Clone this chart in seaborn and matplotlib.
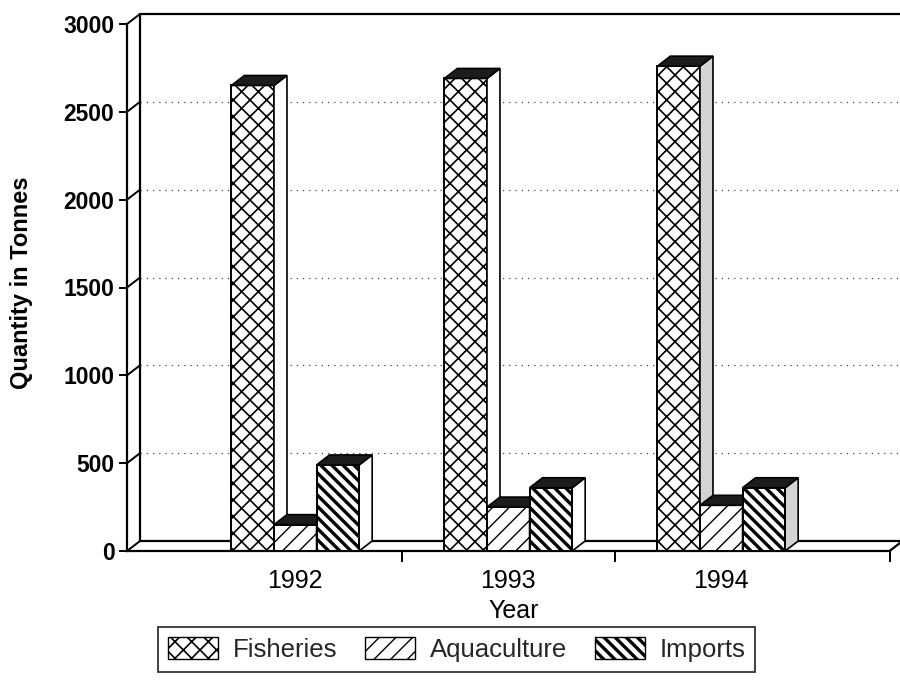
import numpy as np
import pandas as pd
import seaborn as sns
import matplotlib
matplotlib.use("Agg")
import matplotlib.pyplot as plt
import matplotlib.patches as mpatches

# ---- data ----
years = ["1992", "1993", "1994"]
series = ["Fisheries", "Aquaculture", "Imports"]
fisheries = [2650, 2690, 2760]
aquaculture = [150, 250, 260]
imports = [490, 360, 360]
y_ticks = [0, 500, 1000, 1500, 2000, 2500, 3000]
y_label = "Quantity in Tonnes"
x_label = "Year"

sns.set_theme(style="white")
plt.rcParams["font.family"] = ["Liberation Sans", "DejaVu Sans"]
plt.rcParams["hatch.linewidth"] = 1.1
plt.rcParams["hatch.color"] = "black"

df = pd.DataFrame({
    "Year": years * 3,
    "Series": np.repeat(series, len(years)),
    "Quantity": fisheries + aquaculture + imports,
})

W, H = 900, 685
fig = plt.figure(figsize=(W / 100, H / 100), dpi=100)
L, R, B, T = 127, 900, 551, 14
ax = fig.add_axes([L / W, 1 - B / H, (R - L) / W, (B - T) / H])

hatches = {"Fisheries": "xx", "Aquaculture": "//", "Imports": "\\\\\\"}
hatch_lw = {"Fisheries": 1.2, "Aquaculture": 1.0, "Imports": 2.4}


def set_hlw(patch, lw):
    if hasattr(patch, "set_hatch_linewidth"):
        patch.set_hatch_linewidth(lw)
    else:
        patch._hatch_linewidth = lw


bars_by_series = {}
for name in series:
    n_before = len(ax.patches)
    with plt.rc_context({"hatch.linewidth": hatch_lw[name]}):
        sns.barplot(data=df[df["Series"] == name], x="Year", y="Quantity", hue="Series",
                    hue_order=series, order=years, palette=["white"] * 3,
                    edgecolor="black", linewidth=1.4, width=0.6, ax=ax, legend=False,
                    errorbar=None, saturation=1, dodge=True)
    bars_by_series[name] = list(ax.patches[n_before:])

px_per_x = 213.0
x0lim = -0.79
x1lim = x0lim + (R - L) / px_per_x
px_per_y = 527.0 / 3000.0
y1lim = (B - T) / px_per_y
ax.set_xlim(x0lim, x1lim)
ax.set_ylim(0, y1lim)

ux = 1.0 / px_per_x
uy = 1.0 / px_per_y
dx, dy = 13 * ux, 10 * uy

for i, name in enumerate(series):
    bars = sorted(bars_by_series[name], key=lambda p: p.get_x())
    for j, p in enumerate(bars):
        p.set_hatch(hatches[name])
        set_hlw(p, hatch_lw[name])
        p.set_zorder(2 + i)
        x0, w, h = p.get_x(), p.get_width(), p.get_height()
        side_col = "#d4d4d4" if j == len(bars) - 1 else "white"
        top = mpatches.Polygon([(x0, h), (x0 + dx, h + dy), (x0 + w + dx, h + dy), (x0 + w, h)],
                               closed=True, facecolor="#1c1c1c", edgecolor="black",
                               linewidth=1.2, zorder=2 + i + 0.5)
        side = mpatches.Polygon([(x0 + w, 0), (x0 + w + dx, dy), (x0 + w + dx, h + dy), (x0 + w, h)],
                                closed=True, facecolor=side_col, edgecolor="black",
                                linewidth=1.2, zorder=2 + i + 0.5)
        ax.add_patch(side)
        ax.add_patch(top)

# back gridlines (on the back wall, shifted by depth)
for t in y_ticks[1:-1]:
    ax.plot([x0lim + dx, x1lim], [t + dy, t + dy], linestyle=(0, (1, 4)),
            color="#444444", linewidth=0.9, zorder=1)

# 3D frame: back wall, floor, tick connectors
x_end = 2.79
ax.plot([x0lim + dx, x0lim + dx], [dy, y_ticks[-1] + dy], color="black", lw=1.6, zorder=1.5, clip_on=False)
ax.plot([x0lim + dx, x1lim], [y_ticks[-1] + dy, y_ticks[-1] + dy], color="black", lw=1.6, zorder=1.5, clip_on=False)
ax.plot([x0lim + dx, x1lim], [dy, dy], color="black", lw=1.6, zorder=1.5, clip_on=False)
ax.plot([x_end, x_end + dx], [0, dy], color="black", lw=1.6, zorder=1.5, clip_on=False)
for t in y_ticks:
    ax.plot([x0lim, x0lim + dx], [t, t + dy], color="black", lw=1.4, zorder=1.5, clip_on=False)

# spines
for s in ["top", "right"]:
    ax.spines[s].set_visible(False)
ax.spines["left"].set_bounds(0, y_ticks[-1])
ax.spines["bottom"].set_bounds(x0lim, x_end)
for s in ["left", "bottom"]:
    ax.spines[s].set_color("black")
    ax.spines[s].set_linewidth(1.6)

ax.set_yticks(y_ticks)
ax.set_yticklabels([str(t) for t in y_ticks], fontsize=16.5, fontweight="bold")
ax.tick_params(axis="y", direction="out", length=6, width=1.4, pad=3, colors="black", left=True)
ax.set_xticks(range(len(years)))
ax.set_xticklabels(years, fontsize=18)
ax.tick_params(axis="x", length=0, pad=13, colors="black")
ax.set_xticks([0.5, 1.5, x_end], minor=True)
ax.tick_params(axis="x", which="minor", direction="out", length=8, width=1.4, bottom=True, colors="black")

ax.set_xlabel(x_label, fontsize=18, labelpad=4, color="black")
ax.set_ylabel(y_label, fontsize=17, fontweight="bold", color="black")
ax.yaxis.set_label_coords(-0.1216, 0.5)

handles = [mpatches.Patch(facecolor="white", edgecolor="black", hatch=hatches[name], linewidth=1.0)
           for name in series]
leg = fig.legend(handles, series, loc="upper left", bbox_to_anchor=(158 / W, 1 - 627 / H),
                 ncol=3, fontsize=18.5, frameon=True, fancybox=False, handlelength=1.95,
                 handleheight=0.95, handletextpad=0.55, columnspacing=1.1, borderpad=0.4,
                 borderaxespad=0)
for name, lp in zip(series, leg.get_patches()):
    lp.set_hatch(hatches[name])
    set_hlw(lp, hatch_lw[name])
leg.get_frame().set_edgecolor("black")
leg.get_frame().set_linewidth(1.3)

fig.savefig("out.png", dpi=100)
